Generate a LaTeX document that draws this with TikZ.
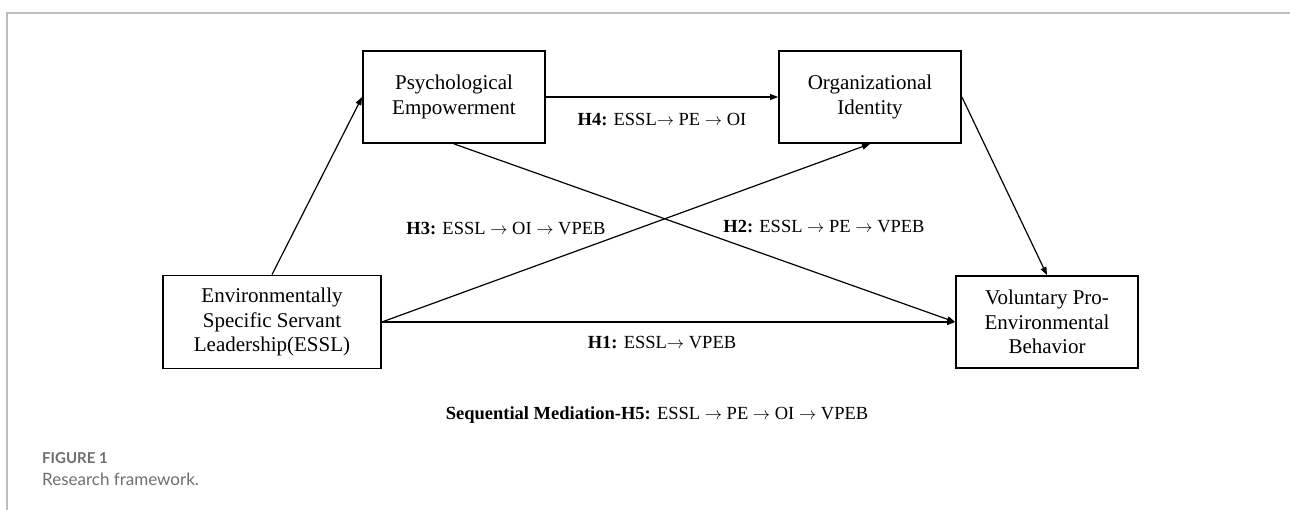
\documentclass[tikz,border=0pt]{standalone}
\usepackage{fontspec}
\setmainfont{Liberation Serif}
\newfontfamily\latofont{Lato}
\usepackage{tikz}
\usetikzlibrary{
    calc,positioning,arrows.meta,shapes
}
\definecolor{framegray}{HTML}{BDBDBD}
\definecolor{capgray}{HTML}{6E6E6E}
\newcommand{\arr}{$\rightarrow$}
\tikzset{
    block/.style={rectangle, draw=black, line width=1.8pt, text centered, align=center, inner sep=0pt, minimum width=182pt, minimum height=92pt, font=\fontsize{21}{24.5}\selectfont},
    big_block/.style={block, minimum width=218pt, minimum height=93pt},
    line/.style={-{Triangle[length=8pt,width=6pt]}, line width=1.2pt},
    hyp/.style={inner sep=0pt, font=\fontsize{18.5}{22}\selectfont},
    fig_frame/.style={draw=framegray, line width=1.5pt},
    cap_text/.style={anchor=base west, inner sep=0pt, text=capgray},
}

\begin{document}
\begin{tikzpicture}
        [x=1pt, y=-1pt]
        \useasboundingbox (0,0) rectangle (1290,510);

        % Figure frame
        \draw[fig_frame] (1290,13) -- (7,13) -- (7,510);

        % Nodes of the framework
        \node[big_block] (essl) at (272,322) {Environmentally\\Specific Servant\\Leadership(ESSL)};
        \node[block] (pe) at (454,97) {Psychological\\Empowerment};
        \node[block] (oi) at (870,97) {Organizational\\Identity};
        \node[block] (vpeb) at (1047,322) {Voluntary Pro-\\Environmental\\Behavior};

        % Arrows
        \draw[line] (essl.north) -- (pe.west);
        \draw[line] (pe.east) -- (oi.west);
        \draw[line] (essl.east) -- (oi.south);
        \draw[line] (pe.south) -- (vpeb.west);
        \draw[line] (essl.east) -- (vpeb.west);
        \draw[line] (oi.east) -- (vpeb.north);

        % Hypothesis labels
        \node[hyp] (h4) at (662,120) {\textbf{H4:} ESSL\arr{} PE \arr{} OI};
        \node[hyp] (h3) at (506,229) {\textbf{H3:} ESSL \arr{} OI \arr{} VPEB};
        \node[hyp] (h2) at (824,227) {\textbf{H2:} ESSL \arr{} PE \arr{} VPEB};
        \node[hyp] (h1) at (662,343) {\textbf{H1:} ESSL\arr{} VPEB};
        \node[hyp] (h5) at (657,415) {\textbf{Sequential Mediation-H5:} ESSL \arr{} PE \arr{} OI \arr{} VPEB};

        % Caption
        \node[cap_text, font=\latofont\bfseries\fontsize{15}{18}\selectfont] (fig) at (42,463) {FIGURE 1};
        \node[cap_text, font=\latofont\fontsize{17}{20}\selectfont] (caption) at (42,485) {Research framework.};
    \end{tikzpicture}
\end{document}
